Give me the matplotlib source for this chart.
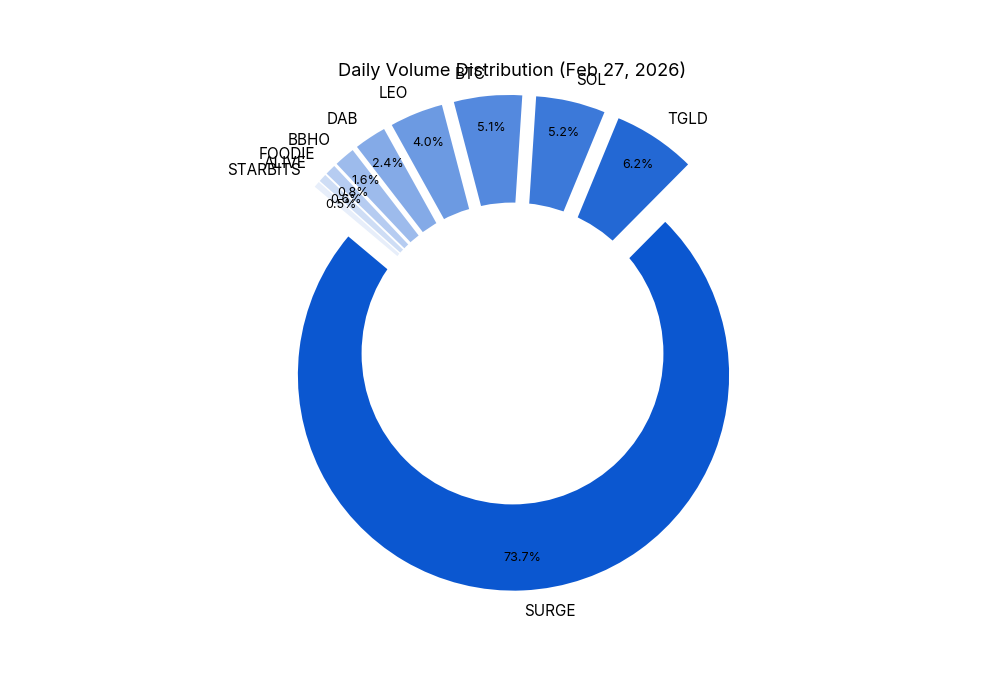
import matplotlib
matplotlib.use('Agg')
import matplotlib.pyplot as plt

plt.rcParams['font.family'] = ['Inter', 'DejaVu Sans']

tokens = ['SURGE', 'TGLD', 'SOL', 'BTC', 'LEO', 'DAB', 'BBHO', 'FOODIE', 'ALIVE', 'STARBITS']
volume_share = [73.7, 6.2, 5.2, 5.1, 4.0, 2.4, 1.56, 0.8, 0.6, 0.46]
explode = [0.1, 0.2, 0.2, 0.2, 0.2, 0.2, 0.2, 0.2, 0.2, 0.2]

# same blue, fading out slice by slice
colors = [(11/255, 87/255, 208/255, 1 - i*0.1) for i in range(len(tokens))]

fig, ax = plt.subplots(figsize=(10, 7), dpi=100)
wedges, texts, autotexts = ax.pie(volume_share, labels=tokens, colors=colors, explode=explode,
                                  autopct='%1.1f%%', pctdistance=0.85, startangle=140,
                                  textprops={'fontsize': 11})
for t in autotexts:
    t.set_fontsize(9)

# hole in the middle
centre_circle = plt.Circle((0, 0), 0.70, fc='white')
ax.add_artist(centre_circle)

ax.set_title('Daily Volume Distribution (Feb 27, 2026)', fontsize=13.1)
plt.savefig('out.png')
